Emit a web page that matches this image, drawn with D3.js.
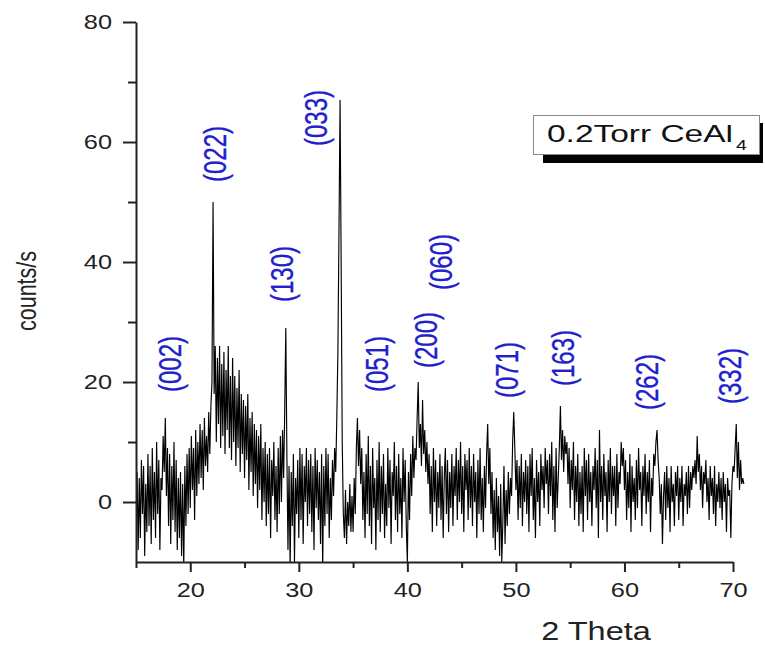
<!DOCTYPE html>
<html><head><meta charset="utf-8">
<script src="https://cdn.jsdelivr.net/npm/d3@7"></script>
<style>html,body{margin:0;padding:0;background:#fff;}svg{display:block;}</style>
</head><body>
<svg id="chart" width="765" height="649"></svg>
<script>
// ---- data ----
const xStart = 15.0, xStep = 0.1;
const counts = [
 -3, 5, -8, 4, -6, 7, -2, 6, -9, 3,
 -5, 8, -4, 6, -7, 9, -3, 5, -6, 10,
 -2, 7, -8, 4, 2, 11, 5, 14, 1, 9,
 -4, 8, -7, 6, -3, 10, -5, 7, -8, 4,
 -6, 5, -9, 3, -11, 6, -4, 8, -2, 9,
 -1, 11, 2, 9, -3, 12, 1, 10, 3, 13,
 4, 12, 2, 14, 6, 11, 5, 15, 8, 16,
 20, 50, 18, 26, 10, 24, 13, 26, 9, 23,
 11, 25, 8, 22, 12, 26, 9, 21, 7, 24,
 10, 21, 6, 19, 9, 22, 5, 18, 8, 17,
 4, 16, 7, 18, 2, 14, 5, 15, 1, 13,
 3, 12, -1, 11, 2, 13, -3, 9, 0, 10,
 -4, 8, -2, 9, -6, 7, 1, 10, -3, 6,
 -5, 9, -2, 11, 0, 12, 4, 15, 29, 8,
 -8, 6, -11, 5, -4, 8, -10, 4, -2, 7,
 -6, 9, -3, 8, -7, 6, 0, 9, -4, 7,
 -2, 8, -5, 6, -8, 9, -1, 7, -3, 5,
 -7, 8, -11, 6, -4, 9, -2, 8, -6, 4,
 -3, 7, 1, 9, 5, 14, 25, 45, 67, 40,
 10, -2, -6, 2, -7, 0, -4, 3, -5, 1,
 -5, 4, -2, 9, 14, 6, 12, 3, 9, -3,
 5, -6, 8, -2, 11, -4, 6, -7, 9, -1,
 4, -8, 7, -3, 10, -5, 6, -2, 8, -6,
 3, -4, 9, -1, 7, -7, 5, 1, 10, -3,
 6, -5, 8, -2, 4, -6, 9, 0, 7, -4,
 -10, 5, -3, 8, 1, 11, 4, 9, 7, 14,
 20, 9, 13, 6, 17, 8, 12, 5, 10, 3,
 8, -2, 6, -5, 9, 0, 7, -4, 5, -1,
 8, -3, 6, -6, 4, 9, -2, 7, -5, 5,
 -1, 8, -4, 6, 1, 9, -3, 7, 0, 10,
 -2, 6, -5, 8, 2, 7, -3, 9, -1, 6,
 -4, 8, 0, 5, -6, 7, -2, 9, -3, 4,
 -5, 6, -1, 8, 13, 3, 9, -2, 5, -6,
 2, -8, 4, -5, 1, -9, 3, -10, -3, 6,
 -7, 2, -4, 5, -2, 4, 1, 10, 15, 9,
 2, 7, -3, 6, -1, 8, -4, 5, 0, 7,
 -2, 6, -5, 8, 1, 9, -3, 4, -6, 7,
 0, 5, -4, 8, 2, 6, -1, 9, 3, 7,
 -2, 8, 1, 10, -3, 6, -5, 9, -1, 4,
 9, 16, 7, 12, 5, 11, 8, 10, 3, 9,
 -1, 7, 2, 10, -3, 6, 0, 8, -4, 5,
 -2, 6, -5, 9, 1, 7, -3, 8, 0, 5,
 -4, 6, 2, 9, -1, 7, -6, 12, 0, 6,
 -3, 8, 1, 5, -5, 7, 0, 9, -2, 6,
 1, 6, -4, 8, -1, 5, 3, 10, 6, 9,
 2, 7, -3, 5, -1, 8, -5, 6, 0, 4,
 -3, 7, -1, 9, 2, 5, -4, 6, 1, 8,
 -2, 5, 0, 7, -5, 4, 1, 8, 6, 10,
 12, 7, 4, -2, 3, -7, 1, 5, -3, 6,
 -1, 4, -5, 6, 0, 3, -4, 5, 1, 6,
 -3, 4, 0, 6, -4, 3, 1, 5, -2, 6,
 -1, 5, 2, 6, 4, 7, 3, 11, 5, 8,
 2, 6, -1, 5, 3, 7, 0, 4, -3, 6,
 1, 4, -2, 6, -4, 3, 0, 5, -1, 4,
 -3, 5, 0, 3, -5, 4, 1, 2, -6, 3,
 6, 5, 9, 13, 4, 10, 2, 7, 3, 4,
 3
];
const xMajorTicks = [20, 30, 40, 50, 60, 70];
const xMinorTicks = [15, 25, 35, 45, 55, 65];
const yMajorTicks = [0, 20, 40, 60, 80];
const yMinorTicks = [10, 30, 50, 70];
const peakLabels = ["(002)", "(022)", "(130)", "(033)", "(051)", "(200)", "(060)", "(071)", "(163)", "(262)", "(332)"];
const peakLabelX = [18.2, 22.4, 28.5, 31.7, 37.3, 41.8, 43.2, 49.3, 54.4, 62.2, 69.8];
const peakLabelY = [23, 58, 38, 64, 23, 27, 40, 22, 24, 20, 21];
const legendMain = "0.2Torr CeAl";
const legendSub = "4";
const xTitle = "2 Theta";
const yTitle = "counts/s";

// ---- drawing ----
const svg = d3.select("#chart");
const FONT = "'Liberation Sans', Arial, Helvetica, sans-serif";
const SX = 1.3; // horizontal stretch of the original figure's type

const x = d3.scaleLinear().domain([15, 70]).range([136, 733]);
const y = d3.scaleLinear().domain([-10, 80]).range([562, 22]);

const data = counts.map((v, i) => ({ t: xStart + i * xStep, c: v }));

svg.append("defs").append("clipPath").attr("id", "plotclip")
  .append("rect").attr("x", x(15)).attr("y", y(80) - 2)
  .attr("width", 765 - x(15)).attr("height", y(-10) - y(80) + 2);

const line = d3.line().x(d => x(d.t)).y(d => y(d.c));
svg.append("path").datum(data)
  .attr("clip-path", "url(#plotclip)")
  .attr("d", line)
  .attr("fill", "none")
  .attr("stroke", "#000")
  .attr("stroke-width", 1.15)
  .attr("stroke-linejoin", "miter");

// axes
const axisColor = "#222";
const gx = svg.append("g").attr("transform", `translate(0,${y(-10)})`);
gx.call(d3.axisBottom(x).tickValues(xMajorTicks).tickSize(10).tickSizeOuter(0).tickPadding(0).tickFormat(""));
const gxm = svg.append("g").attr("transform", `translate(0,${y(-10)})`);
gxm.call(d3.axisBottom(x).tickValues(xMinorTicks).tickSize(6).tickSizeOuter(0).tickFormat(""));
gxm.select(".domain").remove();

const gy = svg.append("g").attr("transform", `translate(${x(15)},0)`);
gy.call(d3.axisLeft(y).tickValues(yMajorTicks).tickSize(13).tickSizeOuter(0).tickFormat(""));
const gym = svg.append("g").attr("transform", `translate(${x(15)},0)`);
gym.call(d3.axisLeft(y).tickValues(yMinorTicks).tickSize(8).tickSizeOuter(0).tickFormat(""));
gym.select(".domain").remove();

svg.selectAll(".domain, .tick line").attr("stroke", axisColor).attr("stroke-width", 2);

// tick labels
gy.selectAll(".tick").append("text")
  .attr("transform", `translate(-24,6.8) scale(${SX},1)`)
  .attr("text-anchor", "end")
  .attr("font-family", FONT).attr("font-size", 19.5).attr("fill", "#222")
  .text(d => d);
gx.selectAll(".tick").append("text")
  .attr("transform", `translate(0,35) scale(${SX},1)`)
  .attr("text-anchor", "middle")
  .attr("font-family", FONT).attr("font-size", 19.5).attr("fill", "#222")
  .text(d => d);

// axis titles
svg.append("text")
  .attr("transform", `translate(596,640) scale(${SX},1)`)
  .attr("text-anchor", "middle")
  .attr("font-family", FONT).attr("font-size", 25).attr("fill", "#222")
  .text(xTitle);
svg.append("text")
  .attr("transform", `translate(36,291) scale(${SX},1) rotate(-90)`)
  .attr("text-anchor", "middle")
  .attr("font-family", FONT).attr("font-size", 21.5).attr("fill", "#222")
  .text(yTitle);

// peak labels
svg.append("g").selectAll("text").data(peakLabels).join("text")
  .attr("transform", (d, i) => `translate(${x(peakLabelX[i])},${y(peakLabelY[i])}) scale(1.28,1) rotate(-90)`)
  .attr("text-anchor", "middle")
  .attr("dy", "0.33em")
  .attr("font-family", FONT).attr("font-size", 24).attr("fill", "#2020cc")
  .attr("stroke", "#2020cc").attr("stroke-width", 0.25)
  .text(d => d);

// legend
const lg = svg.append("g");
lg.append("rect").attr("x", 543).attr("y", 123).attr("width", 220).attr("height", 40).attr("fill", "#000");
lg.append("rect").attr("x", 533.5).attr("y", 115.5).attr("width", 226).attr("height", 39)
  .attr("fill", "#fff").attr("stroke", "#888").attr("stroke-width", 1);
lg.append("text")
  .attr("x", 547).attr("y", 142)
  .attr("textLength", 186).attr("lengthAdjust", "spacingAndGlyphs")
  .attr("font-family", FONT).attr("font-size", 24).attr("fill", "#111")
  .text(legendMain);
lg.append("text")
  .attr("transform", `translate(736,150) scale(${SX},1)`)
  .attr("font-family", FONT).attr("font-size", 15).attr("fill", "#111")
  .text(legendSub);
</script>
</body></html>
